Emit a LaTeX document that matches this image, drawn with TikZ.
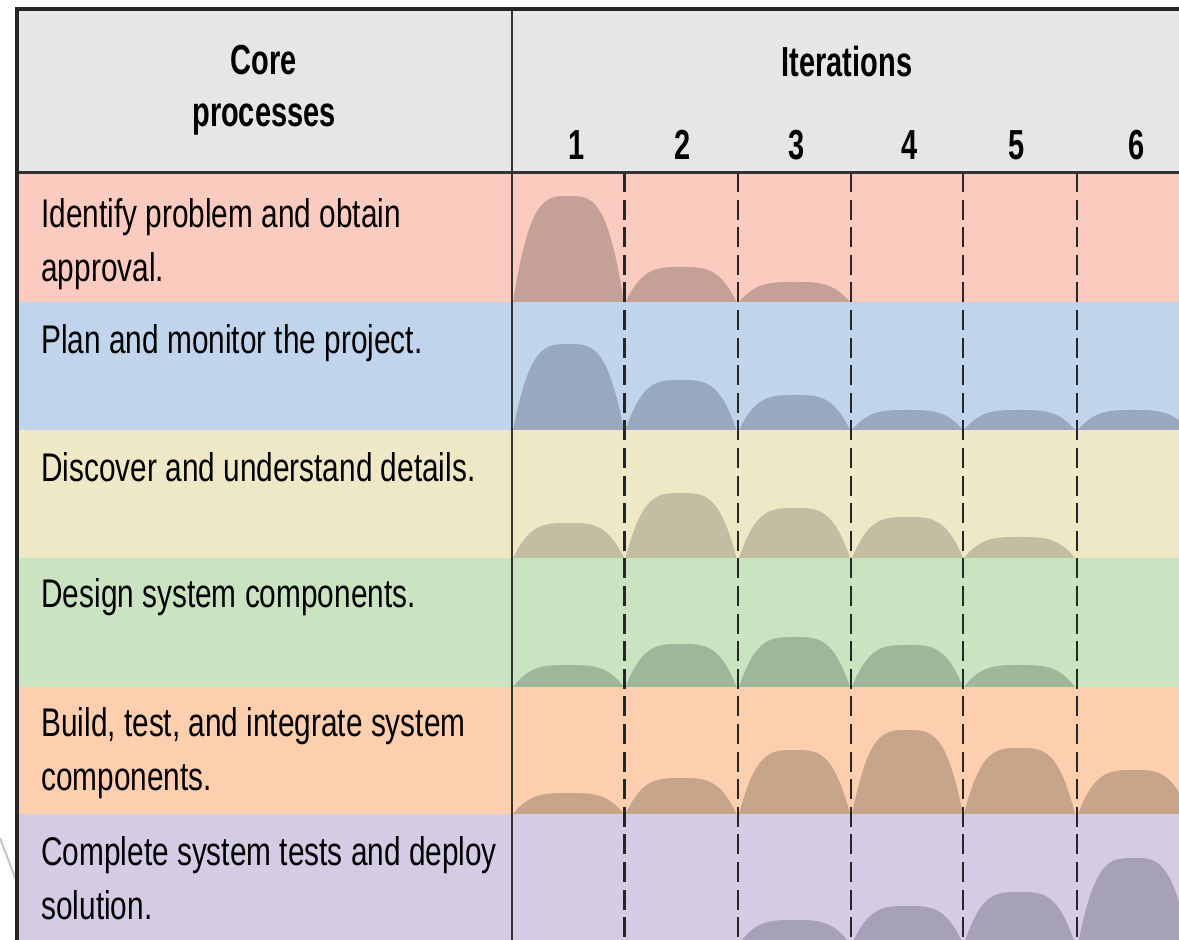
\documentclass[tikz,border=0pt]{standalone}
\usepackage{fontspec}
\setmainfont{Liberation Sans}[FakeStretch=0.745]
\newfontfamily\headfont{Liberation Sans}[FakeStretch=0.69]
\usepackage{tikz}

\definecolor{headbg}{HTML}{E6E6E6}
\definecolor{idbg}{HTML}{FBCBBF}
\definecolor{idhump}{HTML}{C4A096}
\definecolor{planbg}{HTML}{C0D5EC}
\definecolor{planhump}{HTML}{97A8BF}
\definecolor{discbg}{HTML}{EEE8C6}
\definecolor{dischump}{HTML}{C2BEA3}
\definecolor{desbg}{HTML}{CAE4C2}
\definecolor{deshump}{HTML}{9EB69A}
\definecolor{buildbg}{HTML}{FDCFAE}
\definecolor{buildhump}{HTML}{C6A58A}
\definecolor{compbg}{HTML}{D4CCE4}
\definecolor{comphump}{HTML}{A6A1B6}

\newcommand{\hump}[4]{\fill[#1] (#2,#3) .. controls (#2+17,#4) and (#2+32,#4) .. (#2+55.5,#4) .. controls (#2+79,#4) and (#2+94,#4) .. (#2+111,#3) -- cycle;}

\begin{document}
\begin{tikzpicture}[x=0.5pt,y=-0.5pt]
 		\tikzstyle{proc}=[anchor=north west, inner sep=0pt, align=left, font=\fontsize{20}{27}\selectfont]
 		\tikzstyle{head}=[inner sep=0pt, align=center, font=\headfont\bfseries\fontsize{21}{26}\selectfont]
 		\tikzstyle{num}=[anchor=base, inner sep=0pt, font=\headfont\bfseries\fontsize{21}{26}\selectfont]
 		\tikzstyle{iterline}=[draw=black!85, line width=1.2pt, dash pattern=on 10pt off 3.8pt]
 		\tikzstyle{rule}=[draw=black!80, line width=1.1pt]
 		\useasboundingbox (0,0) rectangle (1179,940);
 		\clip (0,0) rectangle (1179,940);
 		\draw[gray!45, line width=1pt] (0,838) -- (16,880);
 			\fill[headbg] (17,9) rectangle (1179,172);
 			\fill[idbg] (17,172) rectangle (1179,302);
 			\fill[planbg] (17,302) rectangle (1179,430);
 			\fill[discbg] (17,430) rectangle (1179,558);
 			\fill[desbg] (17,558) rectangle (1179,687);
 			\fill[buildbg] (17,687) rectangle (1179,814);
 			\fill[compbg] (17,814) rectangle (1179,944);
 				\hump{idhump}{513}{302}{196}
 				\hump{idhump}{625.5}{302}{267}
 				\hump{idhump}{739}{302}{282}
 				\hump{planhump}{513}{430}{344}
 				\hump{planhump}{625.5}{430}{380}
 				\hump{planhump}{739}{430}{395}
 				\hump{planhump}{852}{430}{410}
 				\hump{planhump}{964}{430}{410}
 				\hump{planhump}{1078}{430}{410}
 				\hump{dischump}{513}{558}{523}
 				\hump{dischump}{625.5}{558}{493}
 				\hump{dischump}{739}{558}{508}
 				\hump{dischump}{852}{558}{517}
 				\hump{dischump}{964}{558}{537}
 				\hump{deshump}{513}{687}{665}
 				\hump{deshump}{625.5}{687}{644}
 				\hump{deshump}{739}{687}{637}
 				\hump{deshump}{852}{687}{645}
 				\hump{deshump}{964}{687}{665}
 				\hump{buildhump}{513}{814}{793}
 				\hump{buildhump}{625.5}{814}{778}
 				\hump{buildhump}{739}{814}{750}
 				\hump{buildhump}{852}{814}{730}
 				\hump{buildhump}{964}{814}{748}
 				\hump{buildhump}{1078}{814}{770}
 				\hump{comphump}{739}{944}{920}
 				\hump{comphump}{852}{944}{906}
 				\hump{comphump}{964}{944}{892}
 				\hump{comphump}{1078}{944}{858}
 		\draw[iterline] (624.5,172) -- (624.5,944);
 		\draw[iterline] (738,172) -- (738,944);
 		\draw[iterline] (851,172) -- (851,944);
 		\draw[iterline] (963,172) -- (963,944);
 		\draw[iterline] (1077,172) -- (1077,944);
 		\draw[rule] (17,172.5) -- (1179,172.5);
 		\draw[rule] (512,9) -- (512,944);
 		\draw[black!85, line width=2pt] (17,944) -- (17,9) -- (1179,9);
 			\node[head, anchor=north] (core) at (264,45) {Core\\processes};
 			\node[head, anchor=base] (iter) at (847,77) {Iterations};
 				\node[num] (n1) at (577,160) {1};
 				\node[num] (n2) at (683,160) {2};
 				\node[num] (n3) at (797,160) {3};
 				\node[num] (n4) at (910,160) {4};
 				\node[num] (n5) at (1017,160) {5};
 				\node[num] (n6) at (1137,160) {6};
 			\node[proc] (identify) at (41,198) {Identify problem and obtain\\approval.};
 			\node[proc] (plan) at (41,324) {Plan and monitor the project.};
 			\node[proc] (discover) at (41,452) {Discover and understand details.};
 			\node[proc] (design) at (41,578) {Design system components.};
 			\node[proc] (build) at (41,707) {Build, test, and integrate system\\components.};
 			\node[proc] (deploy) at (41,836) {Complete system tests and deploy\\solution.};
\end{tikzpicture}
\end{document}
